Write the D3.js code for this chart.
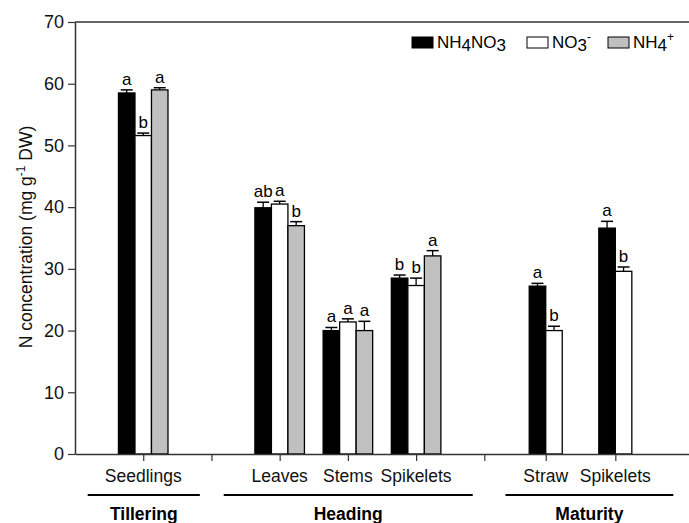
<!DOCTYPE html>
<html><head><meta charset="utf-8">
<script src="https://cdn.jsdelivr.net/npm/d3@7"></script>
<style>body{margin:0;background:#fff}svg{display:block;font-family:"Liberation Sans",Arial,sans-serif}</style>
</head><body>
<svg id="c" width="689" height="523"></svg>
<script>
// ---- data ----
const categories = ["Seedlings","Leaves","Stems","Spikelets","Straw","Spikelets"];
const stages = ["Tillering","Heading","Maturity"];
const seriesNames = ["NH4NO3","NO3-","NH4+"];
const nh4no3 = [58.5, 39.9, 20.0, 28.5, 27.2, 36.6];
const nh4no3Err = [0.5, 0.9, 0.5, 0.5, 0.45, 1.1];
const no3 = [51.6, 40.5, 21.4, 27.3, 20.0, 29.6];
const no3Err = [0.4, 0.45, 0.5, 1.2, 0.7, 0.7];
const nh4 = [59.0, 37.0, 20.0, 32.1, null, null];
const nh4Err = [0.35, 0.65, 1.5, 0.85, null, null];
const letters1 = ["a","ab","a","b","a","a"];
const letters2 = ["b","a","a","b","b","b"];
const letters3 = ["a","b","a","a",null,null];
const yTicks = [0,10,20,30,40,50,60,70];

// ---- layout ----
const catPos = [1, 3, 4, 5, 6.9, 7.92];
const sepPos = [2, 6];
const stageSpan = [[0.186,1.83],[2.18,5.83],[6.31,8.77]];
const barW = 0.242;
const fills = ["#000000","#ffffff","#c0c0c0"];

const svg = d3.select("#c");
const x = d3.scaleLinear().domain([0,9]).range([75,689]);
const y = d3.scaleLinear().domain([0,70]).range([454,22]);

const series = [
  {v:nh4no3, e:nh4no3Err, l:letters1, f:fills[0]},
  {v:no3, e:no3Err, l:letters2, f:fills[1]},
  {v:nh4, e:nh4Err, l:letters3, f:fills[2]}
];

const bars = [];
categories.forEach((c,i)=>{
  const n = series.filter(s=>s.v[i]!=null).length;
  series.forEach((s,k)=>{
    if(s.v[i]==null) return;
    const x0 = catPos[i] - (n/2)*barW + k*barW;
    bars.push({x0, v:s.v[i], e:s.e[i], l:s.l[i], f:s.f});
  });
});

const g = svg.append("g");
g.selectAll("rect.bar").data(bars).join("rect")
  .attr("x", d=>x(d.x0)).attr("width", d=>x(d.x0+barW)-x(d.x0))
  .attr("y", d=>y(d.v)).attr("height", d=>y(0)-y(d.v))
  .attr("fill", d=>d.f).attr("stroke","#000").attr("stroke-width",1.3);

// error bars
const cap = 6;
bars.forEach(d=>{
  const cx = x(d.x0+barW/2);
  g.append("line").attr("x1",cx).attr("x2",cx).attr("y1",y(d.v)).attr("y2",y(d.v+d.e)).attr("stroke","#000").attr("stroke-width",1.3);
  g.append("line").attr("x1",cx-cap).attr("x2",cx+cap).attr("y1",y(d.v+d.e)).attr("y2",y(d.v+d.e)).attr("stroke","#000").attr("stroke-width",1.5);
  g.append("text").attr("x",cx).attr("y",y(d.v+d.e)-5).attr("text-anchor","middle")
    .attr("font-size","17px").attr("fill","#000").text(d.l);
});

// axes
const yAxis = svg.append("g").attr("transform","translate(75,0)")
  .call(d3.axisLeft(y).tickValues(yTicks).tickSize(7).tickPadding(4).tickSizeOuter(0));
yAxis.select(".domain").attr("stroke","#333").attr("stroke-width",1.5);
yAxis.selectAll(".tick line").attr("stroke","#333").attr("stroke-width",1.2);
yAxis.selectAll(".tick text").attr("font-size","18px").attr("fill","#111").attr("font-family","Liberation Sans, Arial, sans-serif");

const xAxis = svg.append("g").attr("transform","translate(0,454)")
  .call(d3.axisBottom(x).tickValues(catPos.concat(sepPos)).tickSize(7).tickFormat("").tickSizeOuter(0));
xAxis.select(".domain").attr("stroke","#333").attr("stroke-width",1.5);
xAxis.selectAll(".tick line").attr("stroke","#333").attr("stroke-width",1.2);

// top frame line
svg.append("line").attr("x1",x(0)).attr("x2",x(9)).attr("y1",y(70)).attr("y2",y(70)).attr("stroke","#333").attr("stroke-width",1.5);

// category labels
svg.selectAll("text.cat").data(categories).join("text")
  .attr("x",(d,i)=>x(catPos[i])).attr("y",482).attr("text-anchor","middle")
  .attr("font-size","17.5px").attr("fill","#111").text(d=>d);

// stage lines and labels
stages.forEach((s,i)=>{
  const [a,b] = stageSpan[i];
  svg.append("line").attr("x1",x(a)).attr("x2",x(b)).attr("y1",495).attr("y2",495).attr("stroke","#000").attr("stroke-width",2);
  svg.append("text").attr("x",(x(a)+x(b))/2).attr("y",520).attr("text-anchor","middle")
    .attr("font-size","17.5px").attr("font-weight","bold").attr("fill","#000").text(s);
});

// y label
const yl = svg.append("text").attr("transform","translate(32,237) rotate(-90)").attr("text-anchor","middle")
  .attr("font-size","17.5px").attr("fill","#111");
yl.append("tspan").text("N concentration (mg g");
yl.append("tspan").attr("dy",-7).attr("font-size","12px").text("-1");
yl.append("tspan").attr("dy",7).text(" DW)");

// legend
const leg = svg.append("g");
const legX = [412, 527, 608];
const legParts = [
  [["NH",0],["4",3],["NO",-3],["3",3]],
  [["NO",0],["3",3],["-",-10]],
  [["NH",0],["4",3],["+",-10]]
];
legParts.forEach((parts,i)=>{
  leg.append("rect").attr("x",legX[i]).attr("y",37).attr("width",21).attr("height",11)
    .attr("fill",fills[i]).attr("stroke","#000").attr("stroke-width",1);
  const t = leg.append("text").attr("x",legX[i]+25).attr("y",48).attr("font-size","17px").attr("fill","#000");
  parts.forEach(([s,dy])=>{
    const sp = t.append("tspan").attr("dy",dy).text(s);
    if(s==="-"||s==="+") sp.attr("font-size","12px");
  });
});
</script>
</body></html>
